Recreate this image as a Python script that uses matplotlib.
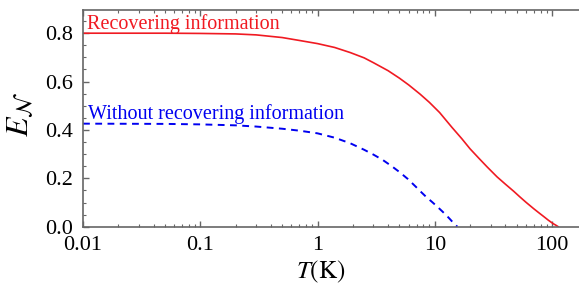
import numpy as np
import matplotlib
matplotlib.use("Agg")
import matplotlib.pyplot as plt
from matplotlib.ticker import FixedLocator, LogLocator, NullFormatter

# --- data ---
T_rec = [0.01, 0.05, 0.1, 0.2, 0.3, 0.5, 0.7, 1.0, 1.4, 1.9, 2.5, 3.0, 4.0,
         5.0, 6.0, 7.5, 9.0, 11, 14, 17, 20, 24, 28, 34, 40, 47, 53, 60,
         70, 78, 85, 93, 102, 108, 113]
E_rec = [0.800, 0.800, 0.799, 0.797, 0.793, 0.782, 0.770, 0.757, 0.741,
         0.720, 0.698, 0.678, 0.645, 0.614, 0.586, 0.548, 0.514, 0.472,
         0.411, 0.364, 0.322, 0.281, 0.247, 0.206, 0.176, 0.147, 0.124,
         0.101, 0.074, 0.056, 0.042, 0.027, 0.013, 0.006, 0.0]

T_norec = [0.01, 0.05, 0.1, 0.2, 0.3, 0.5, 0.7, 1.0, 1.4, 1.9, 2.5, 3.0,
           3.6, 4.3, 5.0, 5.9, 6.9, 7.7, 8.5, 9.5, 10.5, 11.5, 12.5, 13.5,
           14.4, 15.0, 15.6]
E_norec = [0.426, 0.425, 0.423, 0.419, 0.414, 0.405, 0.397, 0.386, 0.368,
           0.345, 0.318, 0.298, 0.276, 0.250, 0.226, 0.197, 0.165, 0.142,
           0.122, 0.102, 0.083, 0.065, 0.048, 0.031, 0.016, 0.007, 0.0]

x_ticks = [0.01, 0.1, 1, 10, 100]
x_ticklabels = ["0.01", "0.1", "1", "10", "100"]
y_ticks = [0.0, 0.2, 0.4, 0.6, 0.8]
y_ticklabels = ["0.0", "0.2", "0.4", "0.6", "0.8"]

plt.rcParams["font.family"] = ["Liberation Serif", "DejaVu Serif"]
plt.rcParams["mathtext.fontset"] = "stix"

fig = plt.figure(figsize=(5.79, 2.85), dpi=100)
ax = fig.add_axes([0.1434, 0.2046, 0.8566, 0.7604])

ax.plot(T_rec, E_rec, color="#f01a22", lw=1.2)
ax.plot(T_norec, E_norec, color="#0000f0", lw=1.4, dashes=(3.5, 2.8))

ax.set_xscale("log")
ax.set_xlim(0.01, 170)
ax.set_ylim(0, 0.896)

ax.xaxis.set_major_locator(FixedLocator(x_ticks))
ax.set_xticklabels(x_ticklabels)
ax.xaxis.set_minor_locator(LogLocator(base=10, subs=np.arange(2, 10)))
ax.xaxis.set_minor_formatter(NullFormatter())
ax.yaxis.set_major_locator(FixedLocator(y_ticks))
ax.set_yticklabels(y_ticklabels)
ax.yaxis.set_minor_locator(FixedLocator(np.arange(0, 0.9, 0.05)))

spine_col = "#666666"
for side in ["left", "bottom", "top"]:
    ax.spines[side].set_color(spine_col)
    ax.spines[side].set_linewidth(1.2)
ax.spines["right"].set_visible(False)

ax.tick_params(which="both", direction="in", top=True, right=False,
               color=spine_col, labelsize=16, pad=7)
ax.tick_params(which="major", length=4, width=1)
ax.tick_params(which="minor", length=2, width=0.8)

ax.set_xlabel(r"$T(\mathrm{K})$", fontsize=18)
ax.xaxis.set_label_coords(0.48, -0.15)
ax.set_ylabel(r"$E_{\mathcal{N}}$", fontsize=23)
ax.yaxis.set_label_coords(-0.095, 0.52)

ax.text(0.0108, 0.817, "Recovering information", color="#f01a22",
        fontsize=14.5, ha="left", va="baseline")
ax.text(0.0111, 0.447, "Without recovering information", color="#0000f0",
        fontsize=14.5, ha="left", va="baseline")

fig.savefig("out.png", dpi=100)
